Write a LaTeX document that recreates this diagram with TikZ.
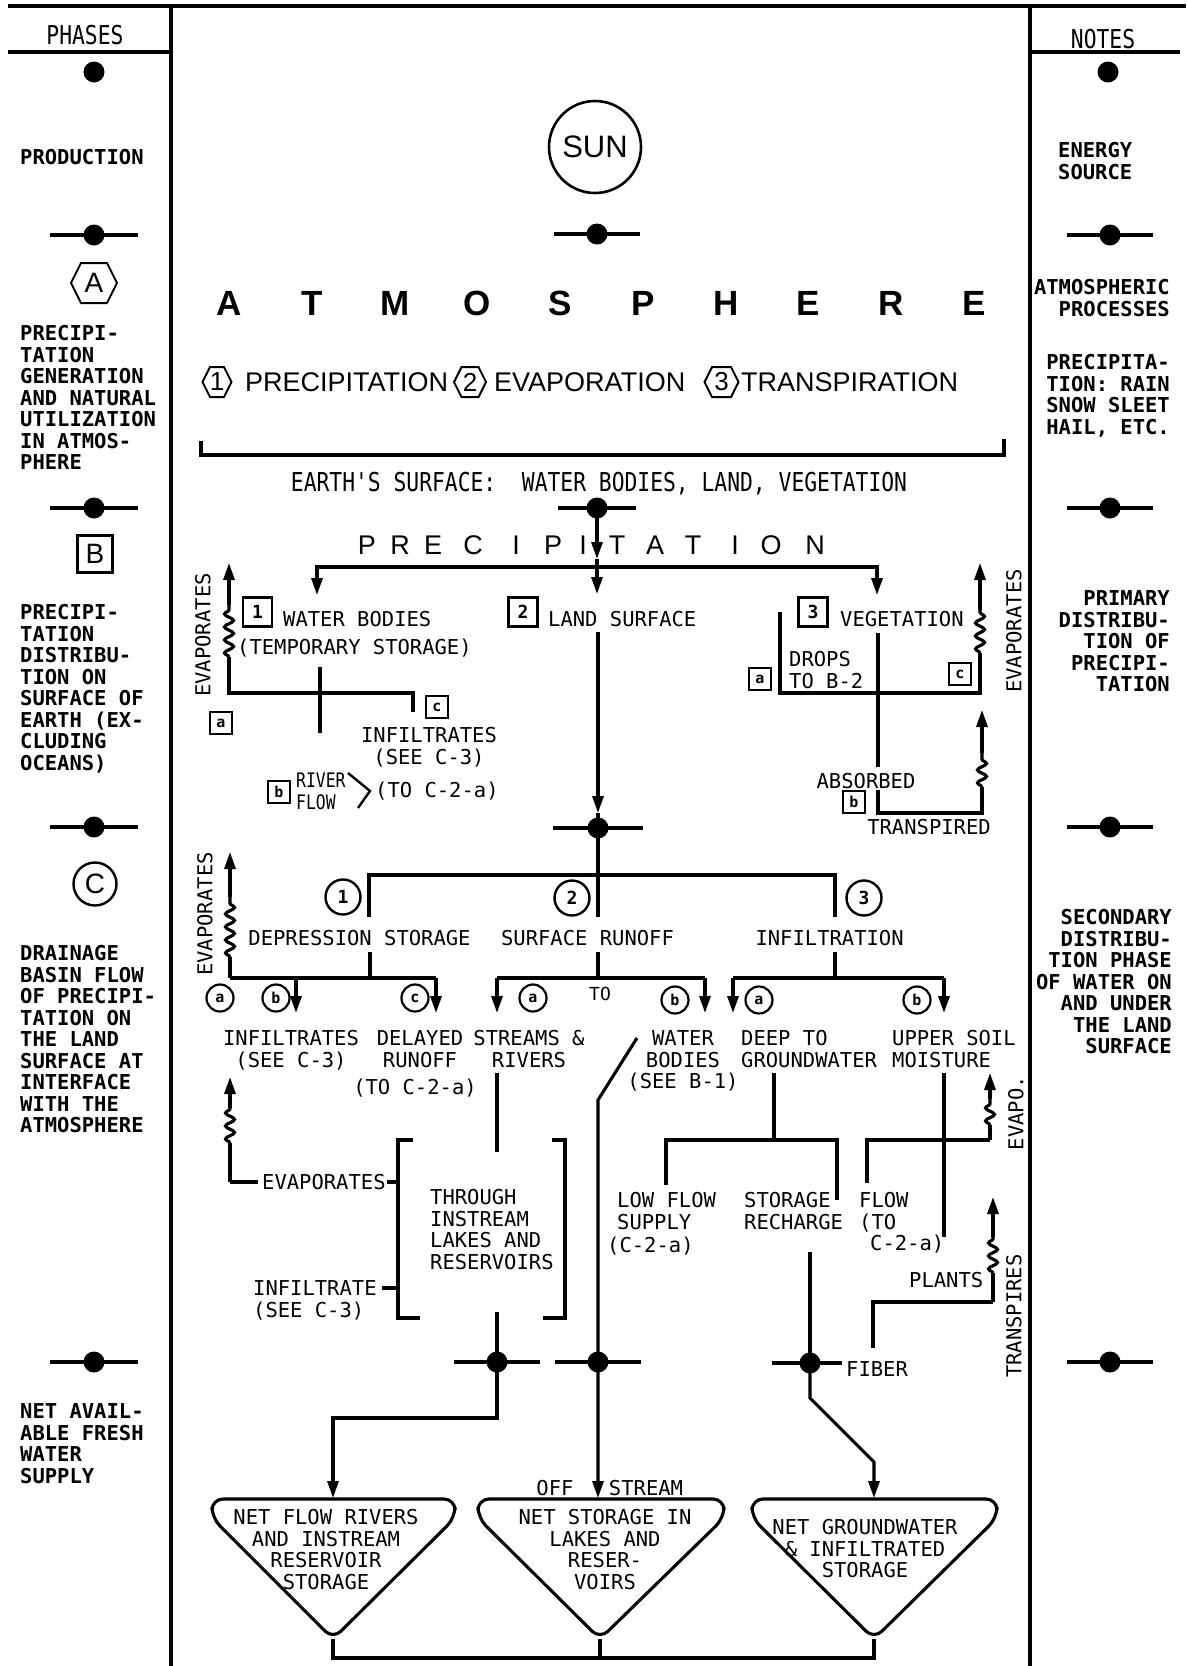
\documentclass[tikz,border=0pt]{standalone}
\usepackage{fontspec}
\usetikzlibrary{arrows.meta,decorations.pathmorphing}
\newfontfamily\monof{DejaVu Sans Mono}
\newfontfamily\condf[FakeStretch=0.82]{DejaVu Sans Mono}
\newfontfamily\arialf{Liberation Sans}
\newcommand\labfont{\monof\fontsize{20.5}{21.5}\selectfont}
\newcommand\colfont{\monof\bfseries\fontsize{20.5}{21.5}\selectfont}
\newcommand\hexagonat[4]{% x y halfwidth halfheight
  \draw[line width=2pt] (#1-#3,#2) -- (#1-#3+#4*0.5,#2-#4) -- (#1+#3-#4*0.5,#2-#4) -- (#1+#3,#2) -- (#1+#3-#4*0.5,#2+#4) -- (#1-#3+#4*0.5,#2+#4) -- cycle;}
\newcommand\wavyup[5]{% x ybottom wavestart waveend tip
  \draw[ln] (#1,#2) -- (#1,#3);
  \draw[wave] (#1,#3) -- (#1,#4);
  \draw[arr] (#1,#4) -- (#1,#5);}
\newcommand\storagetri[3]{% left right apex-x
  \draw[tri] (#1,1499) -- (#2,1499) -- (#2,1518) -- (#3,1639) -- (#1,1518) -- cycle;}
\begin{document}
\begin{tikzpicture}[x=1pt,y=-1pt,
  ln/.style={line width=3.1pt},
  frame/.style={line width=3.2pt},
  arr/.style={ln,-{Triangle[length=17pt,width=11pt]}},
  wave/.style={ln,decorate,decoration={snake,amplitude=4.5pt,segment length=13pt}},
  dotn/.style={circle,fill=black,inner sep=0pt,minimum size=21pt},
  lab/.style={font=\labfont,inner sep=0pt,anchor=base},
  labl/.style={lab,anchor=base west},
  mlab/.style={font=\labfont,inner sep=0pt,align=center,anchor=north},
  mlabl/.style={font=\labfont,inner sep=0pt,align=left,anchor=north west},
  coll/.style={font=\colfont,inner sep=0pt,align=left,anchor=north west},
  colr/.style={font=\colfont,inner sep=0pt,align=right,anchor=north east},
  sqs/.style={draw,line width=2.3pt,inner sep=0pt,minimum size=22pt,font=\monof\bfseries\fontsize{15}{15}\selectfont},
  sqd/.style={draw,line width=2.3pt,inner sep=0pt,minimum size=29pt,font=\monof\bfseries\fontsize{18}{18}\selectfont},
  circs/.style={circle,draw,line width=2.2pt,inner sep=0pt,minimum size=27pt,font=\monof\bfseries\fontsize{15}{15}\selectfont},
  circd/.style={circle,draw,line width=2.4pt,inner sep=0pt,minimum size=35pt,font=\monof\bfseries\fontsize{18}{18}\selectfont},
  hexd/.style={font=\arialf\fontsize{26}{26}\selectfont,inner sep=0pt},
  rot/.style={font=\labfont,inner sep=0pt,anchor=center,rotate=90},
  tri/.style={ln,rounded corners=11pt}
]
\useasboundingbox (0,0) rectangle (1188,1666);
% ---------- frame ----------
\draw[frame] (8,6) -- (1186,6);
\draw[frame] (171,6) -- (171,1666);
\draw[frame] (1030,6) -- (1030,1666);
\draw[frame] (8,52) -- (171,52);
\draw[frame] (1030,52) -- (1180,52);
\node[font=\condf\fontsize{26}{26}\selectfont,inner sep=0pt,anchor=base] (phases) at (85,44.5) {PHASES};
\node[font=\condf\fontsize{26}{26}\selectfont,inner sep=0pt,anchor=base] (notes) at (1103,48.5) {NOTES};
% ---------- column markers ----------
\node[dotn] (ld0) at (94,72) {};
\node[dotn] (rd0) at (1108,72) {};
\foreach \n/\yy in {1/235,2/508,3/827,4/1362}{
  \node[dotn] (ld\n) at (94,\yy) {};
  \draw[ln] ([xshift=-44pt]ld\n.center) -- ([xshift=44pt]ld\n.center);
  \node[dotn] (rd\n) at (1110,\yy) {};
  \draw[ln] ([xshift=-43pt]rd\n.center) -- ([xshift=43pt]rd\n.center);
}
% ---------- left column ----------
\node[labl,font=\colfont] (production) at (20,164.5) {PRODUCTION};
\hexagonat{94}{283}{23}{20}
\node[font=\arialf\fontsize{28}{28}\selectfont,inner sep=0pt] (hA) at (94,283) {A};
\node[coll] (blockA) at (20,325.5) {PRECIPI-\\TATION\\GENERATION\\AND NATURAL\\UTILIZATION\\IN ATMOS-\\PHERE};
\node[draw,line width=2.4pt,minimum width=35pt,minimum height=37pt,inner sep=0pt,font=\arialf\fontsize{28}{28}\selectfont] (bB) at (95,554) {B};
\node[coll] (blockB) at (20,604.5) {PRECIPI-\\TATION\\DISTRIBU-\\TION ON\\SURFACE OF\\EARTH (EX-\\CLUDING\\OCEANS)};
\node[circle,draw,line width=2.4pt,minimum size=43pt,inner sep=0pt,font=\arialf\fontsize{28}{28}\selectfont] (cC) at (95,884) {C};
\node[coll] (blockC) at (20,945.5) {DRAINAGE\\BASIN FLOW\\OF PRECIPI-\\TATION ON\\THE LAND\\SURFACE AT\\INTERFACE\\WITH THE\\ATMOSPHERE};
\node[coll] (blockD) at (20,1403.5) {NET AVAIL-\\ABLE FRESH\\WATER\\SUPPLY};
% ---------- right column ----------
\node[coll] (energy) at (1058,142.5) {ENERGY\\SOURCE};
\node[colr] (atmproc) at (1170,279.5) {ATMOSPHERIC\\PROCESSES};
\node[colr] (precnote) at (1170,354.5) {PRECIPITA-\\TION: RAIN\\SNOW SLEET\\HAIL, ETC.};
\node[colr] (primary) at (1170,590.5) {PRIMARY\\DISTRIBU-\\TION OF\\PRECIPI-\\TATION};
\node[colr] (secondary) at (1172,909.5) {SECONDARY\\DISTRIBU-\\TION PHASE\\OF WATER ON\\AND UNDER\\THE LAND\\SURFACE};
% ---------- atmosphere ----------
\node[circle,draw,line width=2.6pt,minimum size=92pt,inner sep=0pt,font=\arialf\fontsize{31}{31}\selectfont] (sun) at (595,147) {SUN};
\node[dotn] (m1) at (597,234) {};
\draw[ln] ([xshift=-43pt]m1.center) -- ([xshift=43pt]m1.center);
\foreach \ch [count=\i from 0] in {A,T,M,O,S,P,H,E,R,E}
  \node[font=\arialf\bfseries\fontsize{35}{35}\selectfont,inner sep=0pt,anchor=base] (atm\i) at ({229+82.8*\i},315) {\ch};
\hexagonat{217}{382}{14.5}{15}
\node[hexd] (h1) at (217,382) {1};
\node[font=\arialf\fontsize{27}{27}\selectfont,inner sep=0pt,anchor=base west] (pp1) at (245,391.7) {PRECIPITATION};
\hexagonat{470}{382}{16}{15}
\node[hexd] (h2) at (470,382) {2};
\node[font=\arialf\fontsize{27}{27}\selectfont,inner sep=0pt,anchor=base west] (pp2) at (494,391.7) {EVAPORATION};
\hexagonat{721.5}{382}{17}{15}
\node[hexd] (h3) at (721.5,382) {3};
\node[font=\arialf\fontsize{27}{27}\selectfont,inner sep=0pt,anchor=base west] (pp3) at (741,391.7) {TRANSPIRATION};
\draw[ln] (201,441) -- (201,455) -- (1004,455) -- (1004,439);
\node[font=\condf\fontsize{26}{26}\selectfont,inner sep=0pt,anchor=base] (earth) at (599,491.5) {EARTH'S SURFACE:\ \ WATER BODIES, LAND, VEGETATION};
\node[dotn] (m2) at (597,508) {};
\draw[ln] ([xshift=-39pt]m2.center) -- ([xshift=39pt]m2.center);
% ---------- PRECIPITATION ----------
\foreach \ch/\xx [count=\i] in {P/367,R/400,E/433,C/473,I/516,P/553,I/583,T/617,A/655,T/693,I/735,O/771,N/815}
  \node[font=\arialf\fontsize{27}{27}\selectfont,inner sep=0pt,anchor=base] (pt\i) at (\xx,554.5) {\ch};
\coordinate (jB) at (597,567);
\coordinate (midtip) at (597,559);
\coordinate (landtip) at (597,594);
\coordinate (wbtip) at (317,595);
\coordinate (vgtip) at (877,595);
\draw[arr] (m2.center) -- (midtip);
\draw[arr] (midtip) -- (landtip);
\draw[arr] (jB) -| (wbtip);
\draw[arr] (jB) -| (vgtip);
% ---------- B-1 water bodies ----------
\node[sqd] (bx1) at (257.5,612) {1};
\node[labl] (wb) at (283,626.5) {WATER BODIES};
\node[labl] (tmp) at (237,654.5) {(TEMPORARY STORAGE)};
\draw[ln] (413,712) -- (413,693) -- (229,693) -- (229,657);
\draw[wave] (229,657) -- (229,605);
\draw[arr] (229,605) -- (229,563);
\node[rot] (evB1) at (203,635) {EVAPORATES};
\draw[ln] (320,667) -- (320,733);
\node[sqs] (sa1) at (221,723) {a};
\node[sqs] (sc1) at (437,707) {c};
\node[mlab] (inf1) at (429,727.5) {INFILTRATES\\(SEE C-3)};
\node[sqs] (sb1) at (279,792) {b};
\node[font=\condf\fontsize{20}{21.5}\selectfont,inner sep=0pt,align=left,anchor=north west] (river) at (296,773) {RIVER\\FLOW};
\draw[line width=2.4pt] (348,773) -- (370,791) -- (358,808);
\node[labl] (toc2a) at (375,797.5) {(TO C-2-a)};
% ---------- B-2 land surface ----------
\node[sqd] (bx2) at (523,612) {2};
\node[labl] (land) at (548,626.5) {LAND SURFACE};
\node[dotn] (m3) at (598,828) {};
\draw[ln] ([xshift=-45pt]m3.center) -- ([xshift=45pt]m3.center);
\coordinate (landbot) at (598,632);
\coordinate (landarr) at (598,813);
\draw[arr] (landbot) -- (landarr);
\draw[ln] (landarr) -- (m3.center);
% ---------- B-3 vegetation ----------
\node[sqd] (bx3) at (813,612) {3};
\node[labl] (veg) at (840,626.5) {VEGETATION};
\draw[ln] (780,612) -- (780,693) -- (980,693) -- (980,653);
\draw[wave] (980,653) -- (980,610);
\draw[arr] (980,610) -- (980,563);
\draw[ln] (878,633) -- (878,767);
\draw[ln] (878,790) -- (878,813) -- (982,813) -- (982,787);
\draw[wave] (982,787) -- (982,753);
\draw[arr] (982,753) -- (982,710);
\node[mlabl] (drops) at (789,651.5) {DROPS\\TO B-2};
\node[sqs] (sa3) at (760,679) {a};
\node[sqs] (sc3) at (960,674) {c};
\node[sqs] (sb3) at (854,802) {b};
\node[lab] (absorbed) at (866,788.5) {ABSORBED};
\node[lab] (transpired) at (929,834.5) {TRANSPIRED};
\node[rot] (evB3) at (1014,631) {EVAPORATES};
% ---------- C row ----------
\draw[ln] (m3.center) -- (598,917);
\draw[ln] (369,917) -- (369,875) -- (835,875) -- (835,917);
\node[circd] (c1) at (343,897) {1};
\node[circd] (c2) at (572,898) {2};
\node[circd] (c3) at (864,898) {3};
\node[lab] (dep) at (359.5,945.5) {DEPRESSION STORAGE};
\node[lab] (sr) at (587.5,945.5) {SURFACE RUNOFF};
\node[lab] (infl) at (829.6,945.5) {INFILTRATION};
% C-1
\draw[ln] (230,978) -- (436,978);
\draw[ln] (370,952) -- (370,978);
\draw[arr] (296,978) -- (296,1013);
\draw[arr] (436,978) -- (436,1013);
\wavyup{230}{978}{957}{897}{852}
\node[rot] (evC1) at (205,914) {EVAPORATES};
\node[circs] (ca1) at (220,998) {a};
\node[circs] (cb1) at (276,998) {b};
\node[circs] (cc1) at (415,998) {c};
% C-2
\draw[ln] (598,952) -- (598,978);
\draw[ln] (497,978) -- (705,978);
\draw[arr] (497,978) -- (497,1013);
\draw[arr] (705,978) -- (705,1013);
\node[circs] (ca2) at (533,998) {a};
\node[lab,font=\monof\fontsize{18}{18}\selectfont] (to) at (600,1000) {TO};
\node[circs] (cb2) at (675,1000) {b};
% C-3
\draw[ln] (835,952) -- (835,978);
\draw[ln] (733,978) -- (944,978);
\draw[arr] (733,978) -- (733,1013);
\draw[arr] (944,978) -- (944,1013);
\node[circs] (ca3) at (759,1000) {a};
\node[circs] (cb3) at (917,1000) {b};
% texts row
\node[mlab] (infC) at (291,1030.5) {INFILTRATES\\(SEE C-3)};
\node[mlab] (delayed) at (420,1030.5) {DELAYED\\RUNOFF};
\node[mlab] (streams) at (529,1030.5) {STREAMS \&\\RIVERS};
\node[lab] (toc2a2) at (415,1094.5) {(TO C-2-a)};
\node[mlab] (wbC) at (683,1030.5) {WATER\\BODIES\\(SEE B-1)};
\node[mlabl] (deep) at (741,1030.5) {DEEP TO\\GROUNDWATER};
\node[mlabl] (upper) at (892,1030.5) {UPPER SOIL\\MOISTURE};
% ---------- lower flows ----------
\node[dotn] (m4) at (497,1362) {};
\draw[ln] ([xshift=-43pt]m4.center) -- ([xshift=43pt]m4.center);
\node[dotn] (m5) at (598,1362) {};
\draw[ln] ([xshift=-43pt]m5.center) -- ([xshift=43pt]m5.center);
\node[dotn] (m6) at (810,1363) {};
\draw[ln] ([xshift=-38pt]m6.center) -- ([xshift=32pt]m6.center);
% water bodies -> offstream
\coordinate (wbd) at (637,1038);
\coordinate (t2top) at (598,1498);
\draw[arr] (wbd) -- (598,1100) -- (t2top);
% streams & rivers
\coordinate (t1top) at (333,1498);
\draw[ln] (497,1073) -- (497,1152);
\draw[arr] (497,1312) -- (497,1418) -- (333,1418) -- (t1top);
\draw[ln] (413,1140) -- (398,1140) -- (398,1318) -- (420,1318);
\draw[ln] (552,1140) -- (565,1140) -- (565,1318) -- (543,1318);
\node[mlabl] (through) at (430,1189.5) {THROUGH\\INSTREAM\\LAKES AND\\RESERVOIRS};
\node[labl] (evC2) at (262,1189.5) {EVAPORATES};
\draw[ln] (387,1182) -- (398,1182);
\draw[ln] (258,1182) -- (230,1182);
\wavyup{230}{1182}{1143}{1108}{1077}
\node[mlabl] (infC2) at (253,1280.5) {INFILTRATE\\(SEE C-3)};
\draw[ln] (382,1288) -- (398,1288);
% deep to groundwater
\draw[ln] (774,1073) -- (774,1140);
\draw[ln] (666,1185) -- (666,1140) -- (837,1140) -- (837,1200);
\node[mlabl] (lowflow) at (617,1192.5) {LOW FLOW\\SUPPLY};
\node[labl] (c2a3) at (607,1252.5) {(C-2-a)};
\node[mlabl] (storage) at (744,1192.5) {STORAGE\\RECHARGE};
\coordinate (t3top) at (874,1498);
\draw[ln] (810,1252) -- (m6.center);
\draw[arr] (m6.center) -- (810,1398) -- (874,1462) -- (t3top);
\node[labl] (fiber) at (846,1376.5) {FIBER};
% upper soil moisture
\draw[ln] (944,1073) -- (944,1237);
\draw[ln] (867,1183) -- (867,1140) -- (990,1140);
\wavyup{990}{1140}{1125}{1099}{1073}
\node[rot] (evapo) at (1016,1113) {EVAPO.};
\node[mlabl] (flow) at (859,1192.5) {FLOW\\(TO};
\node[labl] (c2a4) at (870,1250.5) {C-2-a)};
\node[labl] (plants) at (909,1287.5) {PLANTS};
\draw[ln] (873,1348) -- (873,1302) -- (993,1302);
\wavyup{993}{1302}{1273}{1237}{1197}
\node[rot] (transpires) at (1014,1316) {TRANSPIRES};
% ---------- storage triangles ----------
\coordinate (a1) at (333,1639);
\coordinate (a2) at (600,1639);
\coordinate (a3) at (874,1639);
\storagetri{212}{455}{333}
\storagetri{478}{724}{600}
\storagetri{752}{997}{874}
\draw[ln] (a1) -- (333,1658) -- (874,1658) -- (a3);
\draw[ln] (a2) -- (600,1658);
\node[mlab] (t1) at (326,1509.5) {NET FLOW RIVERS\\AND INSTREAM\\RESERVOIR\\STORAGE};
\node[mlab] (t2) at (605,1509.5) {NET STORAGE IN\\LAKES AND\\RESER-\\VOIRS};
\node[mlab] (t3) at (865,1519.5) {NET GROUNDWATER\\\& INFILTRATED\\STORAGE};
\node[lab] (off) at (555,1495) {OFF};
\node[lab] (stream) at (646,1495) {STREAM};
\end{tikzpicture}
\end{document}
